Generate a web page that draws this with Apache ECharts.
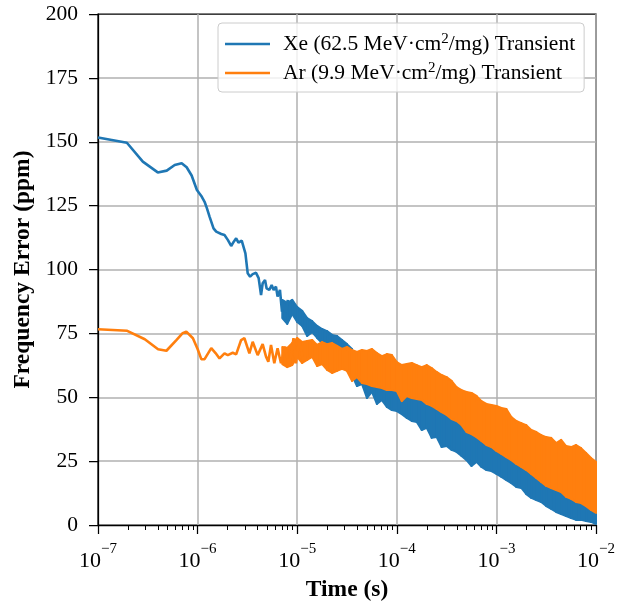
<!DOCTYPE html>
<html><head><meta charset="utf-8">
<script src="https://cdn.jsdelivr.net/npm/echarts@6/dist/echarts.min.js"></script>
<style>html,body{margin:0;padding:0;background:#fff}#c{width:618px;height:609px}</style>
</head><body><div id="c"></div>
<script>
const seriesNames = ['Xe (62.5 MeV·cm²/mg) Transient', 'Ar (9.9 MeV·cm²/mg) Transient'];
const colors = ['#1f77b4', '#ff7f0e'];

// sparse (early) part of each trace: time (s), frequency error (ppm)
const xeT = [1e-7, 1.95e-7, 2.818e-7, 3.981e-7, 4.898e-7, 5.888e-7, 6.918e-7, 7.762e-7, 8.71e-7, 9.84e-7,
  1.089e-6, 1.175e-6, 1.239e-6, 1.318e-6, 1.445e-6, 1.538e-6, 1.726e-6, 1.862e-6, 2.01e-6, 2.173e-6,
  2.307e-6, 2.438e-6, 2.57e-6, 2.673e-6, 2.773e-6, 2.884e-6, 3.02e-6, 3.184e-6, 3.365e-6, 3.573e-6,
  3.86e-6, 4.1e-6, 4.335e-6, 4.5e-6, 4.753e-6, 4.932e-6, 5.248e-6, 5.54e-6, 5.8e-6, 6.12e-6,
  6.35e-6, 6.71e-6, 7.03e-6, 7.3e-6, 7.7e-6, 8.04e-6];
const xeV = [151.7, 149.6, 142.2, 138.0, 138.7, 140.9, 141.6, 140.0, 136.8, 131.1,
  128.8, 126.5, 124.0, 120.7, 116.1, 114.8, 113.9, 113.5, 111.6, 109.2,
  110.9, 112.2, 110.5, 110.0, 111.3, 111.8, 106.3, 98.5, 97.2, 98.2,
  98.7, 96.6, 90.0, 94.6, 95.9, 92.6, 92.0, 93.9, 92.0, 93.3,
  89.4, 92.0, 83.5, 86.8, 83.4, 88.1];
const arT = [1e-7, 1.966e-7, 2.951e-7, 4.009e-7, 4.864e-7, 6.12e-7, 7.079e-7, 7.7e-7, 8.974e-7, 1e-6,
  1.089e-6, 1.175e-6, 1.371e-6, 1.514e-6, 1.66e-6, 1.862e-6, 2.01e-6, 2.254e-6, 2.438e-6, 2.735e-6,
  2.951e-6, 3.311e-6, 3.573e-6, 4.009e-6, 4.5e-6, 4.864e-6, 5.129e-6, 5.458e-6, 5.888e-6, 6.353e-6,
  6.871e-6, 7.534e-6, 8.318e-6, 9.183e-6, 9.705e-6, 1.047e-5, 1.13e-5];
const arV = [76.6, 76.0, 72.7, 68.8, 68.2, 72.4, 75.1, 75.7, 73.1, 68.9,
  64.9, 64.9, 69.2, 67.3, 65.2, 67.2, 66.5, 67.4, 66.8, 72.4,
  73.1, 67.2, 71.7, 66.5, 70.8, 65.9, 63.9, 70.5, 63.3, 69.2,
  63.3, 69.8, 62.0, 73.1, 63.3, 72.4, 65.9];

// dense (noisy) part: upper and lower extent of each trace
const bandT = [7.079e-6, 7.943e-6, 8.913e-6,
  1e-5, 1.122e-5, 1.259e-5, 1.413e-5, 1.585e-5, 1.778e-5, 1.995e-5, 2.239e-5, 2.512e-5, 2.818e-5,
  3.162e-5, 3.548e-5, 3.981e-5, 4.467e-5, 5.012e-5, 5.623e-5, 6.310e-5, 7.079e-5, 7.943e-5, 8.913e-5,
  1e-4, 1.122e-4, 1.259e-4, 1.413e-4, 1.585e-4, 1.778e-4, 1.995e-4, 2.239e-4, 2.512e-4, 2.818e-4,
  3.162e-4, 3.548e-4, 3.981e-4, 4.467e-4, 5.012e-4, 5.623e-4, 6.310e-4, 7.079e-4, 7.943e-4, 8.913e-4,
  1e-3, 1.122e-3, 1.259e-3, 1.413e-3, 1.585e-3, 1.778e-3, 1.995e-3, 2.239e-3, 2.512e-3, 2.818e-3,
  3.162e-3, 3.548e-3, 3.981e-3, 4.467e-3, 5.012e-3, 5.623e-3, 6.310e-3, 7.079e-3, 7.943e-3, 8.913e-3,
  1e-2];
const xeHi = [88.1, 86.9, 88.1, 85.3, 83.8, 81.0, 79.8, 77.9, 76.7, 75.9, 74.4, 74.0, 72.4, 70.8, 68.9,
  61.1, 58.7, 58.3, 57.5, 57.1, 56.8, 56.0, 56.0, 55.6, 51.7, 53.6, 52.8, 52.4, 52.1, 50.5,
  49.7, 48.5, 47.4, 46.2, 44.6, 43.8, 42.3, 39.5, 38.7, 37.6, 36.0, 34.4, 33.7, 32.1, 30.9,
  29.7, 28.6, 27.0, 25.8, 24.7, 23.1, 21.5, 20.0, 18.4, 17.6, 16.8, 16.0, 14.1, 13.3, 12.1,
  11.7, 10.6, 9.0, 7.8];
const xeLo = [81.0, 78.7, 82.6, 79.5, 77.9, 74.0, 75.5, 73.2, 71.2, 69.7, 69.7, 67.7, 65.4, 63.4, 58.7,
  54.4, 55.2, 49.7, 52.1, 47.4, 48.9, 46.2, 45.0, 44.6, 43.4, 41.9, 40.7, 40.3, 37.2, 38.0,
  34.1, 34.4, 30.5, 30.9, 29.4, 28.6, 27.0, 25.4, 23.1, 24.7, 22.7, 21.5, 21.1, 20.0, 18.8,
  17.6, 16.4, 14.9, 14.5, 12.1, 10.6, 9.8, 9.0, 7.4, 6.3, 5.1, 4.3, 3.5, 2.7, 2.0,
  2.0, 1.6, 1.2, 0.4];
const arHi = [69.7, 69.3, 71.2, 73.2, 71.6, 72.0, 72.4, 70.5, 71.6, 70.8, 71.2, 70.1, 68.9, 69.7, 68.5,
  67.7, 68.5, 68.1, 68.9, 67.3, 66.1, 66.9, 66.5, 63.8, 62.6, 63.0, 63.4, 62.6, 61.8, 62.6,
  61.4, 59.9, 58.7, 57.9, 56.4, 54.0, 52.8, 52.1, 51.7, 50.5, 48.5, 47.4, 47.0, 46.6, 45.8,
  45.4, 42.3, 40.7, 39.9, 39.1, 37.2, 36.4, 35.2, 34.4, 34.1, 32.1, 33.3, 30.9, 30.5, 31.3,
  30.1, 28.2, 26.2, 24.7];
const arLo = [63.0, 61.8, 62.6, 65.8, 63.4, 64.6, 65.8, 62.2, 63.0, 60.7, 59.5, 60.3, 61.1, 60.3, 56.4,
  57.9, 55.6, 55.2, 54.4, 54.0, 53.6, 52.8, 52.8, 52.4, 48.5, 50.5, 49.7, 49.3, 48.9, 47.4,
  46.6, 45.4, 44.2, 43.1, 41.5, 40.7, 39.1, 36.4, 35.6, 34.4, 32.9, 31.3, 30.5, 29.0, 27.8,
  26.6, 25.4, 23.9, 22.7, 21.5, 20.0, 18.4, 16.8, 15.3, 14.5, 13.7, 12.9, 11.0, 10.2, 9.0,
  8.6, 7.4, 5.9, 4.7];

// minor ticks of the log axis
const minorDecades = [1e-7, 1e-6, 1e-5, 1e-4, 1e-3];
const minorMantissas = [2, 3, 4, 5, 6, 7, 8, 9];
const minorTicks = [];
minorDecades.forEach(d => minorMantissas.forEach(m => minorTicks.push(+(m * d).toPrecision(3))));

const FONT = 'Liberation Serif';
const LW = 2.6;

function bandData(lo, hi) {
  const out = [];
  for (let i = 0; i < bandT.length - 1; i++) {
    out.push([bandT[i], lo[i], hi[i], bandT[i + 1], lo[i + 1], hi[i + 1]]);
  }
  return out;
}
function bandSeries(name, color, lo, hi) {
  return {
    name: name, type: 'custom', silent: true, clip: true,
    data: bandData(lo, hi),
    encode: { x: [0, 3], y: [1, 2, 4, 5] },
    renderItem: function (params, api) {
      const p1 = api.coord([api.value(0), api.value(2)]);
      const p2 = api.coord([api.value(3), api.value(5)]);
      const p3 = api.coord([api.value(3), api.value(4)]);
      const p4 = api.coord([api.value(0), api.value(1)]);
      return { type: 'polygon', shape: { points: [p1, p2, p3, p4] },
        style: { fill: color, stroke: color, lineWidth: 2, lineJoin: 'round' } };
    }
  };
}

const chart = echarts.init(document.getElementById('c'), null, { renderer: 'canvas' });
chart.setOption({
  animation: false,
  backgroundColor: '#fff',
  grid: { left: 98, right: 20, top: 14, bottom: 84, show: true, borderColor: '#000', borderWidth: 1.25, backgroundColor: 'transparent' },
  legend: {
    data: seriesNames.map(n => ({ name: n, icon: 'rect' })),
    orient: 'vertical', left: 218, top: 23,
    padding: [9, 9, 8, 7], itemGap: 6, itemWidth: 45, itemHeight: LW,
    backgroundColor: 'rgba(255,255,255,0.8)', borderColor: '#cccccc', borderWidth: 1, borderRadius: 4,
    selectedMode: false,
    textStyle: {
      fontFamily: FONT, fontSize: 21.5, color: '#000', padding: [0, 0, 0, 8],
      rich: {
        t: { fontFamily: FONT, fontSize: 21.5, lineHeight: 24, color: '#000' },
        sup: { fontFamily: FONT, fontSize: 15, lineHeight: 14, verticalAlign: 'top', color: '#000' }
      }
    },
    formatter: function (name) {
      const p = name.split('²');
      return '{t|' + p[0] + '}{sup|2}{t|' + p[1] + '}';
    }
  },
  xAxis: [{
    type: 'log', logBase: 10, min: 1e-7, max: 1e-2,
    axisLine: { show: true, lineStyle: { color: '#000', width: 1.25 } },
    axisTick: { show: true, inside: false, length: 9, lineStyle: { color: '#000', width: 1.25 } },
    splitLine: { show: true, showMinLine: false, showMaxLine: false, lineStyle: { color: '#b0b0b0', width: 1.5 } },
    minorTick: { show: false },
    axisLabel: {
      margin: 17,
      formatter: function (v) {
        const e = Math.round(Math.log10(v));
        return '{b|10}{s|' + (e < 0 ? '\u2212' : '') + Math.abs(e) + '}';
      },
      rich: {
        b: { fontFamily: FONT, fontSize: 22, lineHeight: 30, verticalAlign: 'bottom', color: '#000' },
        s: { fontFamily: FONT, fontSize: 15, lineHeight: 14, verticalAlign: 'top', color: '#000' }
      }
    },
    name: 'Time (s)', nameLocation: 'middle', nameGap: 53,
    nameTextStyle: { fontFamily: FONT, fontWeight: 'bold', fontSize: 23.5, color: '#000' }
  }, {
    type: 'log', logBase: 10, min: 1e-7, max: 1e-2, position: 'bottom',
    axisLine: { show: false }, axisLabel: { show: false }, splitLine: { show: false },
    axisTick: { show: true, length: 5, customValues: minorTicks, lineStyle: { color: '#000', width: 1 } }
  }],
  yAxis: {
    type: 'value', min: 0, max: 200, interval: 25,
    axisLine: { show: true, lineStyle: { color: '#000', width: 1.25 } },
    axisTick: { show: true, inside: false, length: 9, lineStyle: { color: '#000', width: 1.25 } },
    splitLine: { show: true, showMinLine: false, showMaxLine: false, lineStyle: { color: '#b0b0b0', width: 1.5 } },
    axisLabel: { margin: 20, fontFamily: FONT, fontSize: 21.5, color: '#000' },
    name: 'Frequency Error (ppm)', nameLocation: 'middle', nameGap: 61,
    nameTextStyle: { fontFamily: FONT, fontWeight: 'bold', fontSize: 23.5, color: '#000' }
  },
  series: [
    { name: seriesNames[0], type: 'line', data: xeT.map((t, i) => [t, xeV[i]]), symbol: 'none',
      lineStyle: { color: colors[0], width: LW }, itemStyle: { color: colors[0] }, clip: true },
    bandSeries('Xe band', colors[0], xeLo, xeHi),
    { name: seriesNames[1], type: 'line', data: arT.map((t, i) => [t, arV[i]]), symbol: 'none',
      lineStyle: { color: colors[1], width: LW }, itemStyle: { color: colors[1] }, clip: true },
    bandSeries('Ar band', colors[1], arLo, arHi)
  ]
});
</script>
</body></html>
